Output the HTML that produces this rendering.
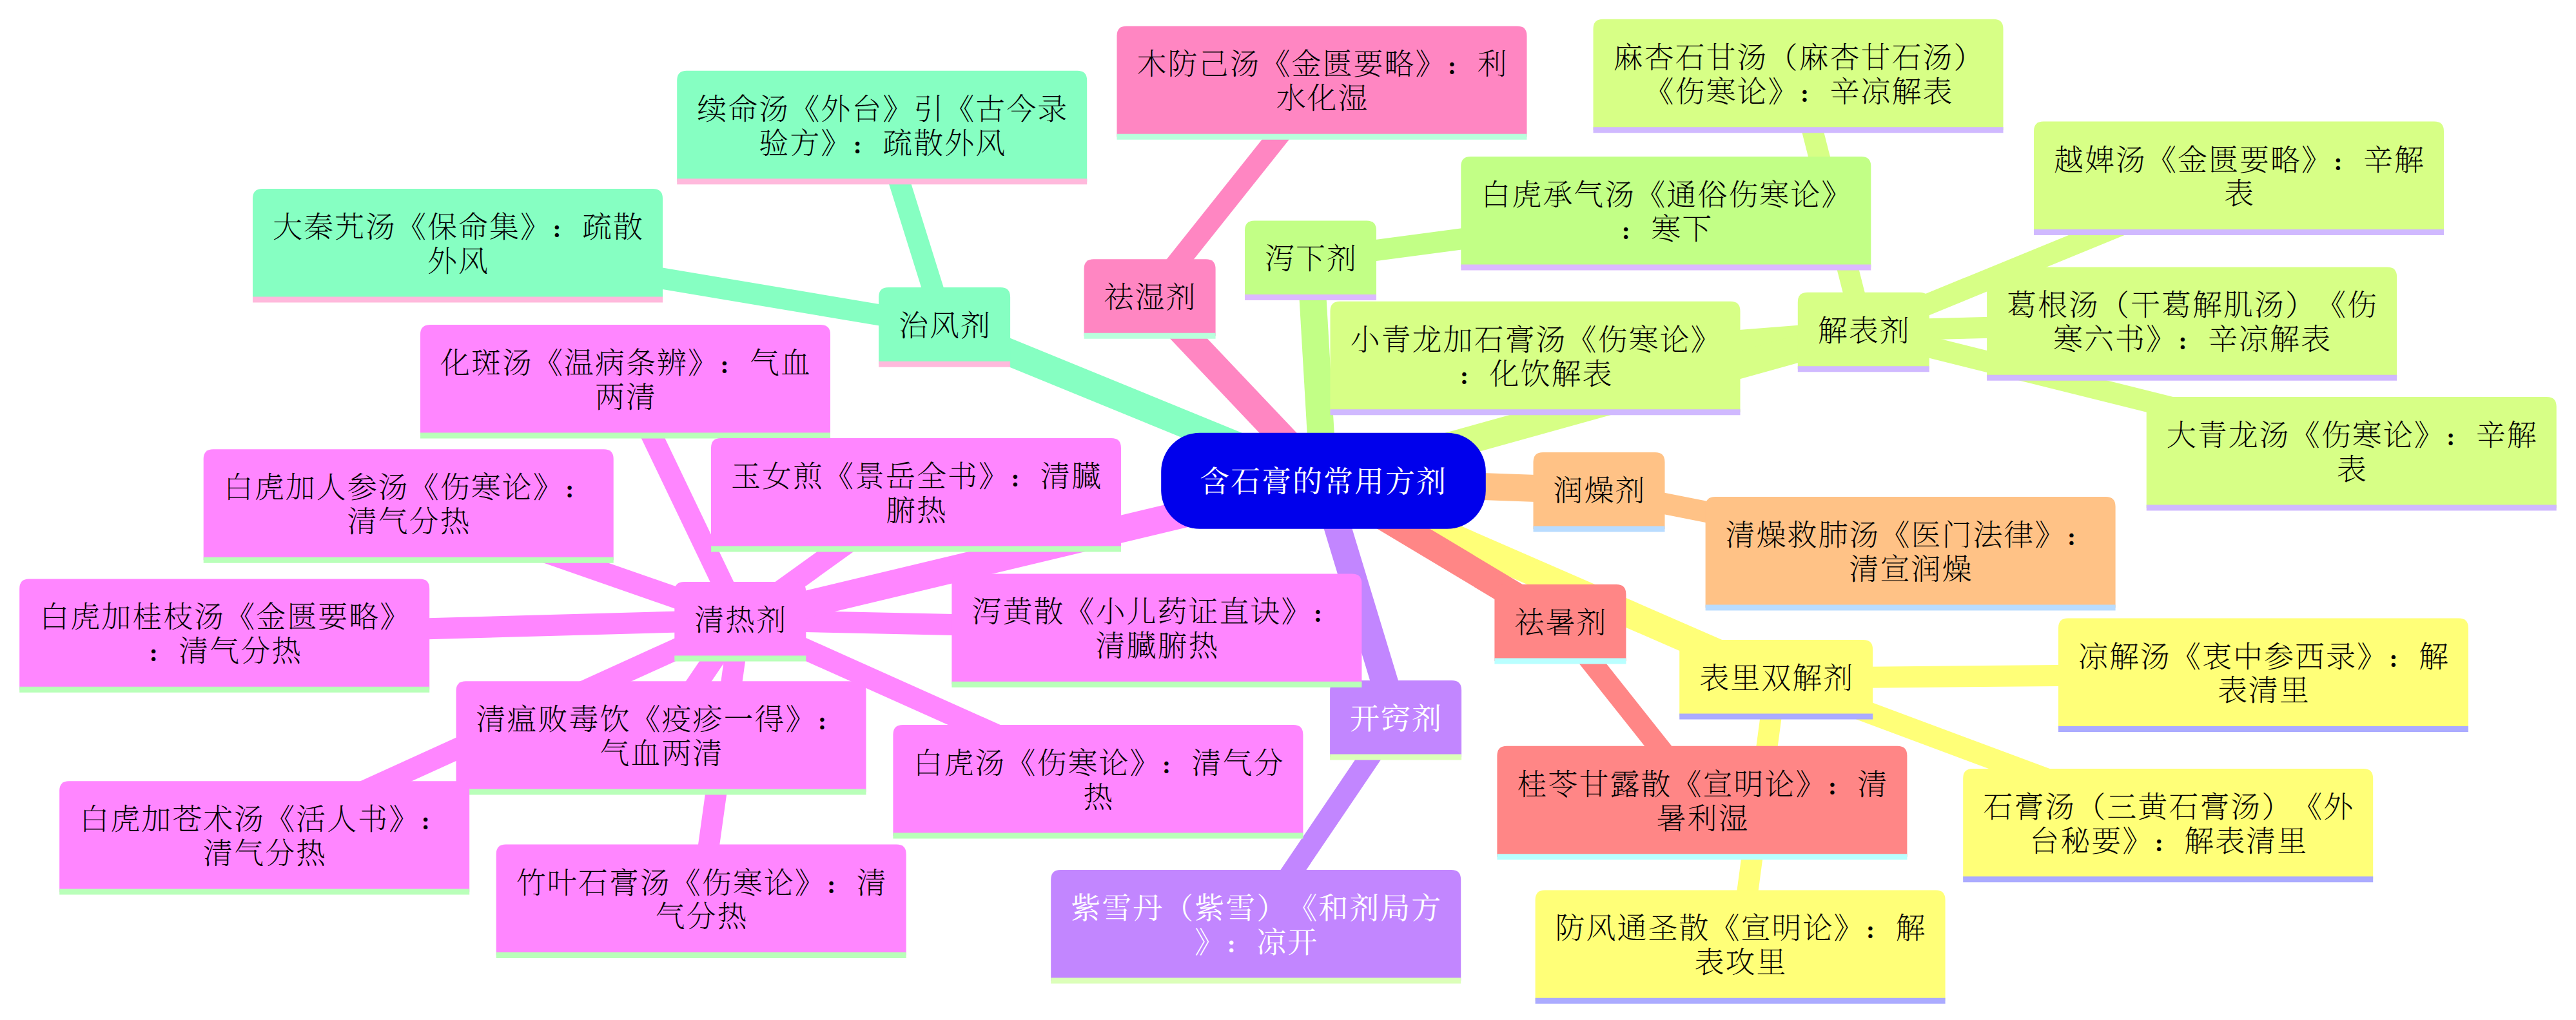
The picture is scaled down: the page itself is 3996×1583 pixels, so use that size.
<!DOCTYPE html>
<html lang="zh-CN"><head><meta charset="utf-8"><title>含石膏的常用方剂</title>
<style>
html,body{margin:0;padding:0;background:#fff}svg{display:block}
text{font-family:"Liberation Serif","Noto Serif CJK SC",serif;font-size:46px;letter-spacing:2px;font-weight:200;text-anchor:middle;font-kerning:none;text-spacing-trim:space-all;font-feature-settings:"chws" 0,"halt" 0,"palt" 0,"kern" 0}
.c{font-weight:900;font-size:31px;letter-spacing:17px}
.d0{stroke-width:42}.d1{stroke-width:33}
.s0 path{fill:#ffff78}.s0 line{stroke:#ababff;stroke-width:9}.s0 text{fill:#000}.e0{stroke:#ffff78}
.s1 path{fill:#d7ff86}.s1 line{stroke:#d0b9ff;stroke-width:9}.s1 text{fill:#000}.e1{stroke:#d7ff86}
.s2 path{fill:#c286ff}.s2 line{stroke:#dcffb9;stroke-width:9}.s2 text{fill:#fff}.e2{stroke:#c286ff}
.s3 path{fill:#ff86ff}.s3 line{stroke:#b9ffb9;stroke-width:9}.s3 text{fill:#000}.e3{stroke:#ff86ff}
.s4 path{fill:#ff86c2}.s4 line{stroke:#b9ffdc;stroke-width:9}.s4 text{fill:#000}.e4{stroke:#ff86c2}
.s5 path{fill:#ff8686}.s5 line{stroke:#b9ffff;stroke-width:9}.s5 text{fill:#000}.e5{stroke:#ff8686}
.s6 path{fill:#ffc286}.s6 line{stroke:#b9dcff;stroke-width:9}.s6 text{fill:#000}.e6{stroke:#ffc286}
.s7 path{fill:#c2ff86}.s7 line{stroke:#dcb9ff;stroke-width:9}.s7 text{fill:#000}.e7{stroke:#c2ff86}
.s8 path{fill:#86ffc2}.s8 line{stroke:#ffb9dc;stroke-width:9}.s8 text{fill:#000}.e8{stroke:#86ffc2}
.root rect{fill:#0000ec}.root text{fill:#fff;font-weight:400}.s2 text{font-weight:400}
</style></head>
<body>
<svg width="3996" height="1583" viewBox="0 0 3996 1583">
<g class="edges">
<line class="e0 d1" x1="2755.2" y1="1052.5" x2="3511" y2="1045.5"/>
<line class="e0 d1" x1="2755.2" y1="1052.5" x2="3363.2" y2="1278.9"/>
<line class="e0 d1" x1="2755.2" y1="1052.5" x2="2699.6" y2="1467.4"/>
<line class="e0 d0" x1="2053" y1="746.2" x2="2755.2" y2="1052.5"/>
<line class="e1 d1" x1="2890.8" y1="513.2" x2="2789.5" y2="115.8"/>
<line class="e1 d1" x1="2890.8" y1="513.2" x2="3473" y2="274.4"/>
<line class="e1 d1" x1="2890.8" y1="513.2" x2="3400.1" y2="500.3"/>
<line class="e1 d1" x1="2890.8" y1="513.2" x2="3647.7" y2="702.1"/>
<line class="e1 d1" x1="2890.8" y1="513.2" x2="2381.5" y2="553.8"/>
<line class="e1 d0" x1="2053" y1="746.2" x2="2890.8" y2="513.2"/>
<line class="e2 d1" x1="2165.1" y1="1115.5" x2="1948.2" y2="1436"/>
<line class="e2 d0" x1="2053" y1="746.2" x2="2165.1" y2="1115.5"/>
<line class="e3 d1" x1="1148.3" y1="962.4" x2="970" y2="590"/>
<line class="e3 d1" x1="1148.3" y1="962.4" x2="633.7" y2="783.2"/>
<line class="e3 d1" x1="1148.3" y1="962.4" x2="1421" y2="766"/>
<line class="e3 d1" x1="1148.3" y1="962.4" x2="1794.4" y2="976.4"/>
<line class="e3 d1" x1="1148.3" y1="962.4" x2="348.2" y2="984.4"/>
<line class="e3 d1" x1="1148.3" y1="962.4" x2="1025.5" y2="1143.2"/>
<line class="e3 d1" x1="1148.3" y1="962.4" x2="1703.4" y2="1211"/>
<line class="e3 d1" x1="1148.3" y1="962.4" x2="410.2" y2="1298.2"/>
<line class="e3 d1" x1="1148.3" y1="962.4" x2="1087.7" y2="1396.5"/>
<line class="e3 d0" x1="2053" y1="746.2" x2="1148.3" y2="962.4"/>
<line class="e4 d1" x1="1783.6" y1="461.8" x2="2050.5" y2="126.3"/>
<line class="e4 d0" x1="2053" y1="746.2" x2="1783.6" y2="461.8"/>
<line class="e5 d1" x1="2420.4" y1="966.5" x2="2640.4" y2="1243.8"/>
<line class="e5 d0" x1="2053" y1="746.2" x2="2420.4" y2="966.5"/>
<line class="e6 d1" x1="2480.5" y1="761.5" x2="2963.6" y2="857"/>
<line class="e6 d0" x1="2053" y1="746.2" x2="2480.5" y2="761.5"/>
<line class="e7 d1" x1="2033" y1="401.9" x2="2584.3" y2="329.1"/>
<line class="e7 d0" x1="2053" y1="746.2" x2="2033" y2="401.9"/>
<line class="e8 d1" x1="1465.1" y1="505.7" x2="710" y2="378.9"/>
<line class="e8 d1" x1="1465.1" y1="505.7" x2="1368.2" y2="195.8"/>
<line class="e8 d0" x1="2053" y1="746.2" x2="1465.1" y2="505.7"/>
</g>
<g class="nodes">
<g class="root"><rect x="1801.2" y="671.7" width="503.6" height="149.1" rx="60" ry="60"/><text x="2053" y="762.7">含石膏的常用方剂</text></g>
<g class="s0"><path d="M2605.2 1112.1V1008Q2605.2 993 2620.2 993H2890.2Q2905.2 993 2905.2 1008V1112.1Z"/><line x1="2605.2" y1="1112.1" x2="2905.2" y2="1112.1"/><text x="2756.2" y="1068"><tspan x="2756.2">表里双解剂</tspan></text></g>
<g class="s0"><path d="M3193 1131.4V974.5Q3193 959.5 3208 959.5H3814Q3829 959.5 3829 974.5V1131.4Z"/><line x1="3193" y1="1131.4" x2="3829" y2="1131.4"/><text x="3512" y="1034.5"><tspan x="3512">凉解汤《衷中参西录》<tspan class="c">：</tspan>解</tspan><tspan x="3512" dy="52.8">表清里</tspan></text></g>
<g class="s0"><path d="M3045.2 1364.8V1207.9Q3045.2 1192.9 3060.2 1192.9H3666.2Q3681.2 1192.9 3681.2 1207.9V1364.8Z"/><line x1="3045.2" y1="1364.8" x2="3681.2" y2="1364.8"/><text x="3364.2" y="1267.9"><tspan x="3364.2">石膏汤（三黄石膏汤）《外</tspan><tspan x="3364.2" dy="52.8">台秘要》<tspan class="c">：</tspan>解表清里</tspan></text></g>
<g class="s0"><path d="M2381.6 1553.3V1396.4Q2381.6 1381.4 2396.6 1381.4H3002.6Q3017.6 1381.4 3017.6 1396.4V1553.3Z"/><line x1="2381.6" y1="1553.3" x2="3017.6" y2="1553.3"/><text x="2700.6" y="1456.4"><tspan x="2700.6">防风通圣散《宣明论》<tspan class="c">：</tspan>解</tspan><tspan x="2700.6" dy="52.8">表攻里</tspan></text></g>
<g class="s1"><path d="M2788.8 572.8V468.7Q2788.8 453.7 2803.8 453.7H2977.8Q2992.8 453.7 2992.8 468.7V572.8Z"/><line x1="2788.8" y1="572.8" x2="2992.8" y2="572.8"/><text x="2891.8" y="528.7"><tspan x="2891.8">解表剂</tspan></text></g>
<g class="s1"><path d="M2471.5 201.7V44.8Q2471.5 29.8 2486.5 29.8H3092.5Q3107.5 29.8 3107.5 44.8V201.7Z"/><line x1="2471.5" y1="201.7" x2="3107.5" y2="201.7"/><text x="2790.5" y="104.8"><tspan x="2790.5">麻杏石甘汤（麻杏甘石汤）</tspan><tspan x="2790.5" dy="52.8">《伤寒论》<tspan class="c">：</tspan>辛凉解表</tspan></text></g>
<g class="s1"><path d="M3155 360.4V203.5Q3155 188.5 3170 188.5H3776Q3791 188.5 3791 203.5V360.4Z"/><line x1="3155" y1="360.4" x2="3791" y2="360.4"/><text x="3474" y="263.5"><tspan x="3474">越婢汤《金匮要略》<tspan class="c">：</tspan>辛解</tspan><tspan x="3474" dy="52.8">表</tspan></text></g>
<g class="s1"><path d="M3082.1 586.3V429.4Q3082.1 414.4 3097.1 414.4H3703.1Q3718.1 414.4 3718.1 429.4V586.3Z"/><line x1="3082.1" y1="586.3" x2="3718.1" y2="586.3"/><text x="3401.1" y="489.4"><tspan x="3401.1">葛根汤（干葛解肌汤）《伤</tspan><tspan x="3401.1" dy="52.8">寒六书》<tspan class="c">：</tspan>辛凉解表</tspan></text></g>
<g class="s1"><path d="M3329.7 788V631.1Q3329.7 616.1 3344.7 616.1H3950.7Q3965.7 616.1 3965.7 631.1V788Z"/><line x1="3329.7" y1="788" x2="3965.7" y2="788"/><text x="3648.7" y="691.1"><tspan x="3648.7">大青龙汤《伤寒论》<tspan class="c">：</tspan>辛解</tspan><tspan x="3648.7" dy="52.8">表</tspan></text></g>
<g class="s1"><path d="M2063.5 639.7V482.8Q2063.5 467.8 2078.5 467.8H2684.5Q2699.5 467.8 2699.5 482.8V639.7Z"/><line x1="2063.5" y1="639.7" x2="2699.5" y2="639.7"/><text x="2382.5" y="542.8"><tspan x="2382.5">小青龙加石膏汤《伤寒论》</tspan><tspan x="2382.5" dy="52.8"><tspan class="c">：</tspan>化饮解表</tspan></text></g>
<g class="s2"><path d="M2063.1 1175V1070.9Q2063.1 1055.9 2078.1 1055.9H2252.1Q2267.1 1055.9 2267.1 1070.9V1175Z"/><line x1="2063.1" y1="1175" x2="2267.1" y2="1175"/><text x="2166.1" y="1130.9"><tspan x="2166.1">开窍剂</tspan></text></g>
<g class="s2"><path d="M1630.2 1522V1365.1Q1630.2 1350.1 1645.2 1350.1H2251.2Q2266.2 1350.1 2266.2 1365.1V1522Z"/><line x1="1630.2" y1="1522" x2="2266.2" y2="1522"/><text x="1949.2" y="1425.1"><tspan x="1949.2">紫雪丹（紫雪）《和剂局方</tspan><tspan x="1949.2" dy="52.8">》<tspan class="c">：</tspan>凉开</tspan></text></g>
<g class="s3"><path d="M1046.3 1022V917.9Q1046.3 902.9 1061.3 902.9H1235.3Q1250.3 902.9 1250.3 917.9V1022Z"/><line x1="1046.3" y1="1022" x2="1250.3" y2="1022"/><text x="1149.3" y="977.9"><tspan x="1149.3">清热剂</tspan></text></g>
<g class="s3"><path d="M652 675.9V519Q652 504 667 504H1273Q1288 504 1288 519V675.9Z"/><line x1="652" y1="675.9" x2="1288" y2="675.9"/><text x="971" y="579"><tspan x="971">化斑汤《温病条辨》<tspan class="c">：</tspan>气血</tspan><tspan x="971" dy="52.8">两清</tspan></text></g>
<g class="s3"><path d="M315.7 869.2V712.3Q315.7 697.3 330.7 697.3H936.7Q951.7 697.3 951.7 712.3V869.2Z"/><line x1="315.7" y1="869.2" x2="951.7" y2="869.2"/><text x="634.7" y="772.3"><tspan x="634.7">白虎加人参汤《伤寒论》<tspan class="c">：</tspan></tspan><tspan x="634.7" dy="52.8">清气分热</tspan></text></g>
<g class="s3"><path d="M1103 851.9V695Q1103 680 1118 680H1724Q1739 680 1739 695V851.9Z"/><line x1="1103" y1="851.9" x2="1739" y2="851.9"/><text x="1422" y="755"><tspan x="1422">玉女煎《景岳全书》<tspan class="c">：</tspan>清臓</tspan><tspan x="1422" dy="52.8">腑热</tspan></text></g>
<g class="s3"><path d="M1476.4 1062.3V905.4Q1476.4 890.4 1491.4 890.4H2097.4Q2112.4 890.4 2112.4 905.4V1062.3Z"/><line x1="1476.4" y1="1062.3" x2="2112.4" y2="1062.3"/><text x="1795.4" y="965.4"><tspan x="1795.4">泻黄散《小儿药证直诀》<tspan class="c">：</tspan></tspan><tspan x="1795.4" dy="52.8">清臓腑热</tspan></text></g>
<g class="s3"><path d="M30.2 1070.3V913.4Q30.2 898.4 45.2 898.4H651.2Q666.2 898.4 666.2 913.4V1070.3Z"/><line x1="30.2" y1="1070.3" x2="666.2" y2="1070.3"/><text x="349.2" y="973.4"><tspan x="349.2">白虎加桂枝汤《金匮要略》</tspan><tspan x="349.2" dy="52.8"><tspan class="c">：</tspan>清气分热</tspan></text></g>
<g class="s3"><path d="M707.5 1229.1V1072.2Q707.5 1057.2 722.5 1057.2H1328.5Q1343.5 1057.2 1343.5 1072.2V1229.1Z"/><line x1="707.5" y1="1229.1" x2="1343.5" y2="1229.1"/><text x="1026.5" y="1132.2"><tspan x="1026.5">清瘟败毒饮《疫疹一得》<tspan class="c">：</tspan></tspan><tspan x="1026.5" dy="52.8">气血两清</tspan></text></g>
<g class="s3"><path d="M1385.4 1297V1140.1Q1385.4 1125.1 1400.4 1125.1H2006.4Q2021.4 1125.1 2021.4 1140.1V1297Z"/><line x1="1385.4" y1="1297" x2="2021.4" y2="1297"/><text x="1704.4" y="1200.1"><tspan x="1704.4">白虎汤《伤寒论》<tspan class="c">：</tspan>清气分</tspan><tspan x="1704.4" dy="52.8">热</tspan></text></g>
<g class="s3"><path d="M92.2 1384.1V1227.2Q92.2 1212.2 107.2 1212.2H713.2Q728.2 1212.2 728.2 1227.2V1384.1Z"/><line x1="92.2" y1="1384.1" x2="728.2" y2="1384.1"/><text x="411.2" y="1287.2"><tspan x="411.2">白虎加苍术汤《活人书》<tspan class="c">：</tspan></tspan><tspan x="411.2" dy="52.8">清气分热</tspan></text></g>
<g class="s3"><path d="M769.7 1482.4V1325.5Q769.7 1310.5 784.7 1310.5H1390.7Q1405.7 1310.5 1405.7 1325.5V1482.4Z"/><line x1="769.7" y1="1482.4" x2="1405.7" y2="1482.4"/><text x="1088.7" y="1385.5"><tspan x="1088.7">竹叶石膏汤《伤寒论》<tspan class="c">：</tspan>清</tspan><tspan x="1088.7" dy="52.8">气分热</tspan></text></g>
<g class="s4"><path d="M1681.6 521.3V417.2Q1681.6 402.2 1696.6 402.2H1870.6Q1885.6 402.2 1885.6 417.2V521.3Z"/><line x1="1681.6" y1="521.3" x2="1885.6" y2="521.3"/><text x="1784.6" y="477.2"><tspan x="1784.6">祛湿剂</tspan></text></g>
<g class="s4"><path d="M1732.5 212.3V55.4Q1732.5 40.4 1747.5 40.4H2353.5Q2368.5 40.4 2368.5 55.4V212.3Z"/><line x1="1732.5" y1="212.3" x2="2368.5" y2="212.3"/><text x="2051.5" y="115.4"><tspan x="2051.5">木防己汤《金匮要略》<tspan class="c">：</tspan>利</tspan><tspan x="2051.5" dy="52.8">水化湿</tspan></text></g>
<g class="s5"><path d="M2318.4 1026.1V922Q2318.4 907 2333.4 907H2507.4Q2522.4 907 2522.4 922V1026.1Z"/><line x1="2318.4" y1="1026.1" x2="2522.4" y2="1026.1"/><text x="2421.4" y="982"><tspan x="2421.4">祛暑剂</tspan></text></g>
<g class="s5"><path d="M2322.4 1329.7V1172.8Q2322.4 1157.8 2337.4 1157.8H2943.4Q2958.4 1157.8 2958.4 1172.8V1329.7Z"/><line x1="2322.4" y1="1329.7" x2="2958.4" y2="1329.7"/><text x="2641.4" y="1232.8"><tspan x="2641.4">桂苓甘露散《宣明论》<tspan class="c">：</tspan>清</tspan><tspan x="2641.4" dy="52.8">暑利湿</tspan></text></g>
<g class="s6"><path d="M2378.5 821.1V717Q2378.5 702 2393.5 702H2567.5Q2582.5 702 2582.5 717V821.1Z"/><line x1="2378.5" y1="821.1" x2="2582.5" y2="821.1"/><text x="2481.5" y="777"><tspan x="2481.5">润燥剂</tspan></text></g>
<g class="s6"><path d="M2645.6 942.9V786Q2645.6 771 2660.6 771H3266.6Q3281.6 771 3281.6 786V942.9Z"/><line x1="2645.6" y1="942.9" x2="3281.6" y2="942.9"/><text x="2964.6" y="846"><tspan x="2964.6">清燥救肺汤《医门法律》<tspan class="c">：</tspan></tspan><tspan x="2964.6" dy="52.8">清宣润燥</tspan></text></g>
<g class="s7"><path d="M1931 461.5V357.4Q1931 342.4 1946 342.4H2120Q2135 342.4 2135 357.4V461.5Z"/><line x1="1931" y1="461.5" x2="2135" y2="461.5"/><text x="2034" y="417.4"><tspan x="2034">泻下剂</tspan></text></g>
<g class="s7"><path d="M2266.3 415V258.1Q2266.3 243.1 2281.3 243.1H2887.3Q2902.3 243.1 2902.3 258.1V415Z"/><line x1="2266.3" y1="415" x2="2902.3" y2="415"/><text x="2585.3" y="318.1"><tspan x="2585.3">白虎承气汤《通俗伤寒论》</tspan><tspan x="2585.3" dy="52.8"><tspan class="c">：</tspan>寒下</tspan></text></g>
<g class="s8"><path d="M1363.1 565.2V461.1Q1363.1 446.1 1378.1 446.1H1552.1Q1567.1 446.1 1567.1 461.1V565.2Z"/><line x1="1363.1" y1="565.2" x2="1567.1" y2="565.2"/><text x="1466.1" y="521.1"><tspan x="1466.1">治风剂</tspan></text></g>
<g class="s8"><path d="M392 464.9V308Q392 293 407 293H1013Q1028 293 1028 308V464.9Z"/><line x1="392" y1="464.9" x2="1028" y2="464.9"/><text x="711" y="368"><tspan x="711">大秦艽汤《保命集》<tspan class="c">：</tspan>疏散</tspan><tspan x="711" dy="52.8">外风</tspan></text></g>
<g class="s8"><path d="M1050.2 281.7V124.8Q1050.2 109.8 1065.2 109.8H1671.2Q1686.2 109.8 1686.2 124.8V281.7Z"/><line x1="1050.2" y1="281.7" x2="1686.2" y2="281.7"/><text x="1369.2" y="184.8"><tspan x="1369.2">续命汤《外台》引《古今录</tspan><tspan x="1369.2" dy="52.8">验方》<tspan class="c">：</tspan>疏散外风</tspan></text></g>
</g>
</svg>
</body></html>
